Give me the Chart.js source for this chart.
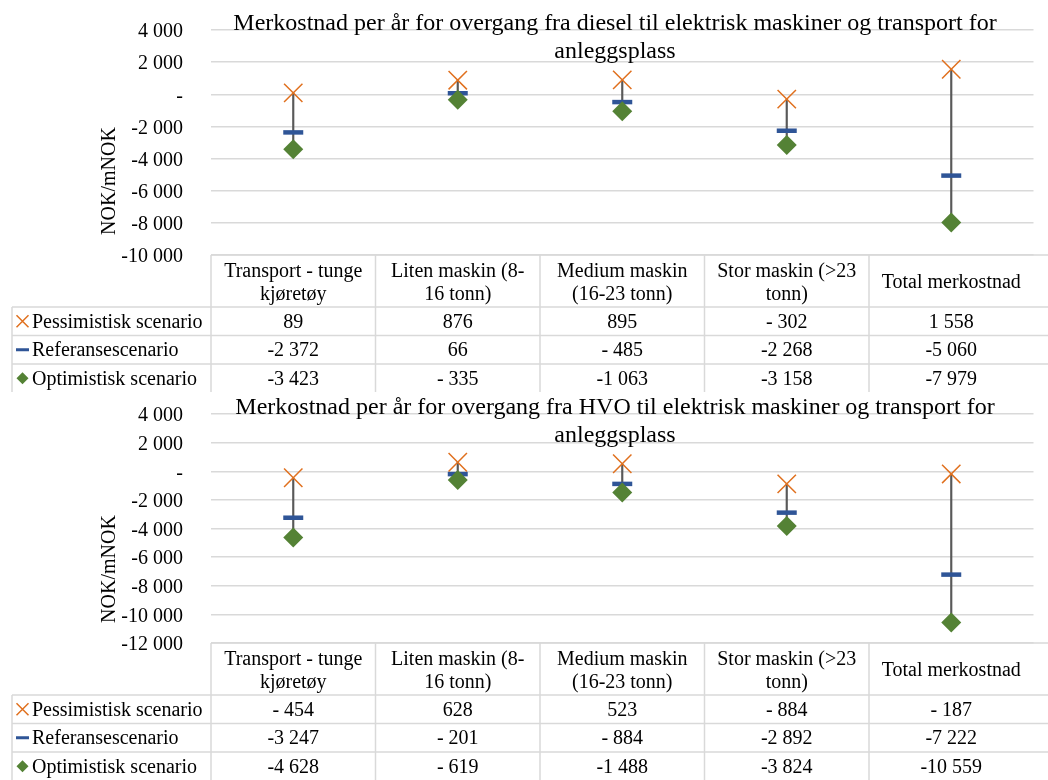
<!DOCTYPE html>
<html>
<head>
<meta charset="utf-8">
<script src="https://cdn.jsdelivr.net/npm/chart.js@4.4.1/dist/chart.umd.min.js"></script>
<style>
  body { margin: 0; background: #fff; }
  canvas { display: block; }
</style>
</head>
<body>
<canvas id="dieselChart" width="1048" height="392"></canvas>
<canvas id="hvoChart" width="1048" height="388"></canvas>
<script>
// categories (as shown in the table header, with line breaks)
const categories = [
  ['Transport - tunge', 'kjøretøy'],
  ['Liten maskin (8-', '16 tonn)'],
  ['Medium maskin', '(16-23 tonn)'],
  ['Stor maskin (>23', 'tonn)'],
  ['Total merkostnad']
];
const seriesNames = ['Pessimistisk scenario', 'Referansescenario', 'Optimistisk scenario'];

// diesel -> elektrisk
const dieselTitle = ['Merkostnad per år for overgang fra diesel til elektrisk maskiner og transport for', 'anleggsplass'];
const dieselPess = [89, 876, 895, -302, 1558];
const dieselRef = [-2372, 66, -485, -2268, -5060];
const dieselOpt = [-3423, -335, -1063, -3158, -7979];

// HVO -> elektrisk
const hvoTitle = ['Merkostnad per år for overgang fra HVO til elektrisk maskiner og transport for', 'anleggsplass'];
const hvoPess = [-454, 628, 523, -884, -187];
const hvoRef = [-3247, -201, -884, -2892, -7222];
const hvoOpt = [-4628, -619, -1488, -3824, -10559];

const yTitle = 'NOK/mNOK';

const FONT = "'Liberation Serif', 'Times New Roman', serif";
const ORANGE = '#E0701E';
const BLUE = '#2F5597';
const GREEN = '#548235';
const GRID = '#D9D9D9';

// excel-like number format: space as thousand separator, 0 as "-"
function fmt(v) {
  if (v === 0) return '-';
  const s = Math.abs(v).toString().replace(/\B(?=(\d{3})+(?!\d))/g, ' ');
  if (v > 0) return s;
  return Math.abs(v) < 1000 ? '- ' + s : '-' + s;
}

const tablePlugin = {
  id: 'dataTable',
  afterDraw(chart, args, opts) {
    const ctx = chart.ctx;
    const area = chart.chartArea;
    const x = chart.scales.x;
    const W = chart.width;
    const H = chart.height;
    const colW = (area.right - area.left) / categories.length;
    const top = area.bottom;
    const headH = 52;
    const rowH = 28.5;
    const legLeft = 12;

    ctx.save();
    // borders
    ctx.strokeStyle = GRID;
    ctx.lineWidth = 1.5;
    ctx.beginPath();
    ctx.moveTo(area.left, top); ctx.lineTo(W, top);
    for (let r = 0; r < 3; r++) {
      const y = top + headH + r * rowH;
      ctx.moveTo(legLeft, y); ctx.lineTo(W, y);
    }
    for (let c = 0; c < categories.length; c++) {
      const xx = area.left + c * colW;
      ctx.moveTo(xx, top); ctx.lineTo(xx, H);
    }
    ctx.moveTo(legLeft, top + headH); ctx.lineTo(legLeft, H);
    ctx.stroke();

    // header
    ctx.fillStyle = '#000';
    ctx.font = '20px ' + FONT;
    ctx.textAlign = 'center';
    ctx.textBaseline = 'middle';
    categories.forEach((lines, i) => {
      const cx = x.getPixelForValue(i);
      const lh = 23;
      const y0 = top + headH / 2 + 2 - (lines.length - 1) * lh / 2;
      lines.forEach((t, k) => ctx.fillText(t, cx, y0 + k * lh));
    });

    // rows
    const rows = [opts.pess, opts.ref, opts.opt];
    rows.forEach((vals, r) => {
      const cy = top + headH + r * rowH + rowH / 2;
      vals.forEach((v, i) => {
        ctx.fillText(fmt(v), x.getPixelForValue(i), cy + 1);
      });
      // legend key
      const kx = 22.5;
      if (r === 0) {
        ctx.strokeStyle = ORANGE; ctx.lineWidth = 1.5;
        ctx.beginPath();
        ctx.moveTo(kx - 6, cy - 6); ctx.lineTo(kx + 6, cy + 6);
        ctx.moveTo(kx + 6, cy - 6); ctx.lineTo(kx - 6, cy + 6);
        ctx.stroke();
      } else if (r === 1) {
        ctx.fillStyle = BLUE;
        ctx.fillRect(kx - 6.5, cy - 1.5, 13, 3);
      } else {
        ctx.fillStyle = GREEN;
        ctx.beginPath();
        ctx.moveTo(kx, cy - 6); ctx.lineTo(kx + 6, cy); ctx.lineTo(kx, cy + 6); ctx.lineTo(kx - 6, cy);
        ctx.closePath(); ctx.fill();
      }
      ctx.fillStyle = '#000';
      ctx.textAlign = 'left';
      ctx.fillText(seriesNames[r], 32, cy + 1);
      ctx.textAlign = 'center';
    });

    // chart title
    ctx.font = '24px ' + FONT;
    ctx.textBaseline = 'alphabetic';
    opts.title.forEach((t, k) => ctx.fillText(t, 615, area.top + k * 28));

    // y axis title
    ctx.font = '20px ' + FONT;
    ctx.textBaseline = 'middle';
    ctx.translate(110, opts.yTitleY);
    ctx.rotate(-Math.PI / 2);
    ctx.fillText(yTitle, 0, 0);
    ctx.restore();
  }
};

function makeChart(id, title, pess, ref, opt, yMin, padTop, yTitleY) {
  const hiLo = pess.map((p, i) => {
    const vals = [p, ref[i], opt[i]];
    return [Math.min(...vals), Math.max(...vals)];
  });
  return new Chart(document.getElementById(id), {
    data: {
      labels: categories.map(l => l.join(' ')),
      datasets: [
        {
          type: 'bar', data: hiLo, backgroundColor: '#595959',
          barThickness: 1.5, order: 10
        },
        {
          type: 'line', label: seriesNames[0], data: pess, showLine: false,
          pointStyle: 'crossRot', pointRadius: 13, pointBorderWidth: 1.5,
          borderColor: ORANGE, backgroundColor: ORANGE, order: 3, clip: false
        },
        {
          type: 'line', label: seriesNames[1], data: ref, showLine: false,
          pointStyle: 'line', pointRadius: 10, pointBorderWidth: 4.5,
          borderColor: BLUE, backgroundColor: BLUE, order: 2, clip: false
        },
        {
          type: 'line', label: seriesNames[2], data: opt, showLine: false,
          pointStyle: 'rectRot', pointRadius: 10, pointBorderWidth: 0,
          borderColor: GREEN, backgroundColor: GREEN, order: 1, clip: false
        }
      ]
    },
    options: {
      responsive: false,
      animation: false,
      devicePixelRatio: 1,
      layout: { padding: { top: padTop, bottom: 137, left: 0, right: 0 } },
      scales: {
        x: { display: false, offset: true },
        y: {
          min: yMin, max: 4000,
          afterFit(scale) {
            scale.width = 211;
            // tick padding would otherwise push the plot area down
            scale.paddingTop = 10;
            scale.paddingBottom = 10;
          },
          border: { display: false },
          grid: { color: GRID, lineWidth: 1.5, drawTicks: false },
          ticks: {
            stepSize: 2000, padding: 28, labelOffset: 2, color: '#000',
            font: { family: FONT, size: 20 },
            callback: v => fmt(v)
          }
        }
      },
      plugins: {
        legend: { display: false },
        tooltip: { enabled: false },
        dataTable: { title, pess, ref, opt, yTitleY }
      }
    },
    plugins: [tablePlugin]
  });
}

makeChart('dieselChart', dieselTitle, dieselPess, dieselRef, dieselOpt, -10000, 30, 181);
makeChart('hvoChart', hvoTitle, hvoPess, hvoRef, hvoOpt, -12000, 22, 177);
</script>
</body>
</html>
